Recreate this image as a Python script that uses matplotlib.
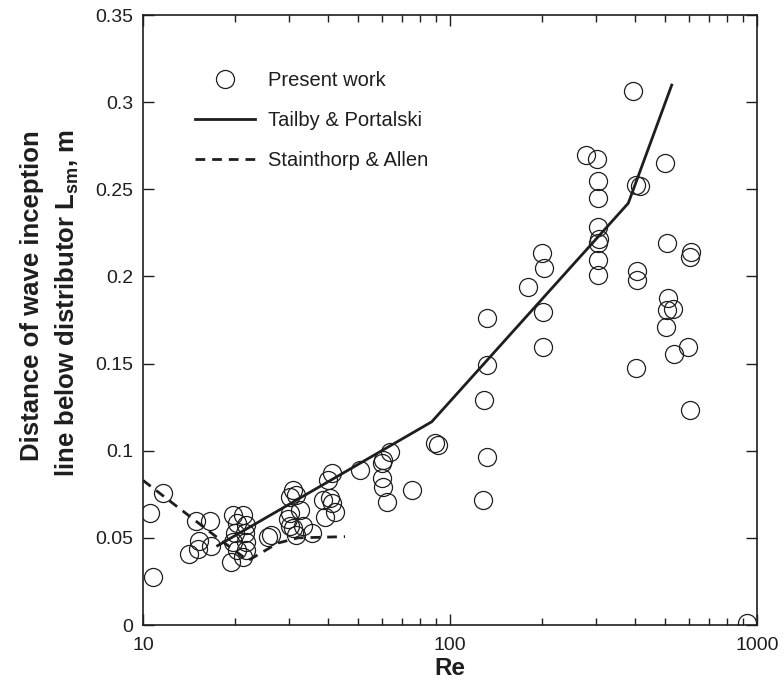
import matplotlib
matplotlib.use("Agg")
import matplotlib.pyplot as plt
from matplotlib.ticker import FixedLocator, FixedFormatter, NullFormatter

plt.rcParams['font.family'] = ['Liberation Sans', 'DejaVu Sans']
plt.rcParams['mathtext.fontset'] = 'custom'
plt.rcParams['mathtext.rm'] = 'Liberation Sans'
plt.rcParams['mathtext.bf'] = 'Liberation Sans:bold'

# Present work (scatter)
re_pts = [10.5, 10.8, 11.6, 14.1, 15.05, 15.2, 16.6, 14.9, 16.5,
          19.7, 21.2, 20.2, 21.7, 19.9, 21.5, 19.7, 21.7, 20.2, 21.7, 19.4, 21.2, 25.6,
          26.2, 30.9, 31.6, 30.1, 32.5, 30.1, 29.7, 30.1, 33.2, 30.9, 35.4, 31.6,
          41.2, 40.2, 40.6, 41.2, 38.7, 42.1, 39.1,
          50.9, 63.8, 60.6, 59.9, 59.9, 60.6, 62.2, 75.0, 89.5, 91.5,
          131.7, 128.1, 128.6, 132.4, 132.4, 179.9, 198.9, 202.4, 200.5, 200.5,
          277.3, 300.5, 302.8, 302.8, 304, 306, 304, 302.8, 302.8,
          395.4, 402.7, 416, 405.5, 405.5, 402.7,
          501.5, 507.9, 511.7, 533.9, 507.9, 506.8, 536.6, 597.4, 608.1, 605.9, 605.9,
          925]
l_pts = [0.064, 0.0275, 0.076, 0.041, 0.0435, 0.048, 0.0455, 0.0595, 0.0595,
         0.0631, 0.0631, 0.0583, 0.0574, 0.0526, 0.0526, 0.0478, 0.0478, 0.043, 0.043, 0.0363, 0.0392, 0.0507,
         0.0516, 0.0775, 0.0746, 0.0736, 0.066, 0.064, 0.061, 0.057, 0.057, 0.0555, 0.0526, 0.0516,
         0.087, 0.083, 0.0727, 0.070, 0.0717, 0.065, 0.062,
         0.0889, 0.0994, 0.0947, 0.0928, 0.0842, 0.0794, 0.0707, 0.0775, 0.1042, 0.1035,
         0.0966, 0.0717, 0.129, 0.149, 0.176, 0.1937, 0.2133, 0.2046, 0.1797, 0.1597,
         0.2697, 0.2672, 0.2547, 0.2448, 0.2285, 0.2213, 0.219, 0.2094, 0.2008,
         0.3065, 0.2524, 0.2519, 0.2031, 0.1979, 0.1473,
         0.2649, 0.219, 0.1874, 0.1813, 0.1807, 0.1711, 0.1555, 0.1597, 0.2142, 0.2113, 0.1234,
         0.001]

# Tailby & Portalski
tp_re = [17.5, 87.2, 380.8, 527.5]
tp_l = [0.0455, 0.1166, 0.242, 0.3098]

# Stainthorp & Allen
sa_re = [10.0, 17.3, 22.0, 27.5, 32.0, 45.5]
sa_l = [0.083, 0.0507, 0.037, 0.047, 0.050, 0.0507]

ytick_vals = [0, 0.05, 0.1, 0.15, 0.2, 0.25, 0.3, 0.35]
ytick_labels = ['0', '0.05', '0.1', '0.15', '0.2', '0.25', '0.3', '0.35']
xtick_vals = [10, 100, 1000]
xtick_labels = ['10', '100', '1000']

W, H = 784, 682
fig = plt.figure(figsize=(W / 100, H / 100), dpi=100)
ax_l, ax_r, ax_t, ax_b = 143, 757, 15, 625
ax = fig.add_axes([ax_l / W, 1 - ax_b / H, (ax_r - ax_l) / W, (ax_b - ax_t) / H])

ink = '#1e1e1e'
ax.plot(re_pts, l_pts, linestyle='none', marker='o', markersize=13,
        markerfacecolor='none', markeredgecolor=ink, markeredgewidth=0.9,
        label='Present work', zorder=3)
ax.plot(tp_re, tp_l, color=ink, linewidth=2.0, label='Tailby & Portalski', zorder=4)
ax.plot(sa_re, sa_l, color=ink, linewidth=2.0, linestyle=(0, (3.5, 2.5)),
        label='Stainthorp & Allen', zorder=4)

ax.set_xscale('log')
ax.set_xlim(10, 1000)
ax.set_ylim(0, 0.35)
ax.xaxis.set_major_locator(FixedLocator(xtick_vals))
ax.xaxis.set_major_formatter(FixedFormatter(xtick_labels))
minor = [m * d for d in (10, 100) for m in range(2, 10)]
ax.xaxis.set_minor_locator(FixedLocator(minor))
ax.xaxis.set_minor_formatter(NullFormatter())
ax.yaxis.set_major_locator(FixedLocator(ytick_vals))
ax.yaxis.set_major_formatter(FixedFormatter(ytick_labels))

ax.tick_params(which='both', direction='in', top=True, right=True, colors=ink,
               labelsize=14, width=1.0)
ax.tick_params(which='major', length=8, pad=7)
ax.tick_params(which='minor', length=5)
ax.tick_params(axis='x', which='major', pad=9)
for s in ax.spines.values():
    s.set_linewidth(1.2)
    s.set_color(ink)

ax.set_xlabel('Re', fontsize=17.5, fontweight='bold', color=ink, labelpad=2)

fig.text(32 / W, 1 - 296 / H, 'Distance of wave inception', rotation=90,
         ha='center', va='center', fontsize=18.5, fontweight='bold', color=ink)
fig.text(67 / W, 1 - 303 / H, r'line below distributor L$_{\mathbf{sm}}$, m', rotation=90,
         ha='center', va='center', fontsize=18.5, fontweight='bold', color=ink)

leg = ax.legend(loc='upper left', bbox_to_anchor=((195 - ax_l) / (ax_r - ax_l), (ax_b - 71) / (ax_b - ax_t)),
                frameon=False, fontsize=14.5, handlelength=3.0, handletextpad=0.6,
                labelspacing=1.05, borderpad=0, borderaxespad=0)
for t in leg.get_texts():
    t.set_color(ink)

fig.savefig('out.png', dpi=100, facecolor='white')
